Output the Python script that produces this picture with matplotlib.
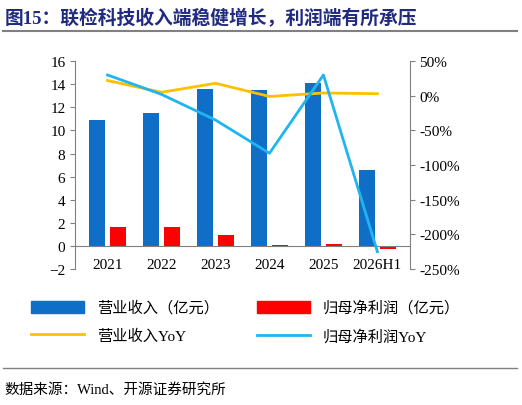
import matplotlib
matplotlib.use("Agg")
import matplotlib.pyplot as plt
import numpy as np
from matplotlib.lines import Line2D

plt.rcParams['font.family'] = ['Liberation Serif', 'Noto Sans CJK SC']

years = ['2021', '2022', '2023', '2024', '2025', '2026H1']
revenue = [10.9, 11.5, 13.6, 13.5, 14.1, 6.6]
profit = [1.6, 1.6, 0.95, 0.1, 0.15, -0.3]
rev_yoy = [22, 5, 18, -1, 4, 3]
profit_yoy = [30, 2, -35, -83, 30, -225]

fig = plt.figure(figsize=(5.22, 4.06), dpi=100)
ax = fig.add_axes([0.144, 0.335, 0.641, 0.512])
x = np.arange(len(years))
w = 0.3
ax.bar(x - 0.2, revenue, w, color='#0f6fc6')
ax.bar(x + 0.2, profit, w, color='#ff0000')
ax.set_ylim(-2, 16)
ax.set_yticks(range(-2, 17, 2))
ax.set_xticks(x)
ax.set_xticklabels(years)
ax.set_xlim(-0.6, 5.6)
ax.axhline(0, color='#808080', lw=0.8)
for s in ['top', 'right', 'bottom']:
    ax.spines[s].set_visible(False)
ax.spines['left'].set_color('#808080')
ax.tick_params(axis='x', length=0, labelsize=11, pad=-8)
ax.tick_params(axis='y', labelsize=11, color='#808080')

ax2 = ax.twinx()
ax2.plot(x, rev_yoy, color='#ffc000', lw=2)
ax2.plot(x, profit_yoy, color='#1fb5f0', lw=2)
ax2.set_ylim(-250, 50)
ax2.set_yticks(range(-250, 51, 50))
ax2.set_yticklabels([f'{v}%' for v in range(-250, 51, 50)])
for s in ['top', 'left', 'bottom']:
    ax2.spines[s].set_visible(False)
ax2.spines['right'].set_color('#808080')
ax2.tick_params(axis='y', labelsize=11, color='#808080')

cjk = ['Liberation Serif', 'Noto Sans CJK SC']
handles = [plt.Rectangle((0, 0), 1, 1, color='#0f6fc6'),
           Line2D([], [], color='#ffc000', lw=2),
           plt.Rectangle((0, 0), 1, 1, color='#ff0000'),
           Line2D([], [], color='#1fb5f0', lw=2)]
labels = ['营业收入（亿元）', '营业收入YoY', '归母净利润（亿元）', '归母净利润YoY']
fig.legend(handles, labels, loc='center', bbox_to_anchor=(0.47, 0.205), ncol=2,
           frameon=False, handlelength=3.5, columnspacing=2.5,
           handleheight=0.8, labelspacing=0.9, prop={'family': cjk, 'size': 11})

fig.text(0.008, 0.955, '图15：联检科技收入端稳健增长，利润端有所承压', fontsize=13.5,
         fontweight='bold', color='#1f2a80', family=cjk, va='center')
fig.add_artist(Line2D([0.005, 0.99], [0.922, 0.922], color='#808080', lw=1.5))
fig.add_artist(Line2D([0.005, 0.99], [0.09, 0.09], color='#808080', lw=1))
fig.text(0.008, 0.04, '数据来源：Wind、开源证券研究所', fontsize=10.5, family=cjk, va='center')

fig.savefig('out.png', dpi=100)
